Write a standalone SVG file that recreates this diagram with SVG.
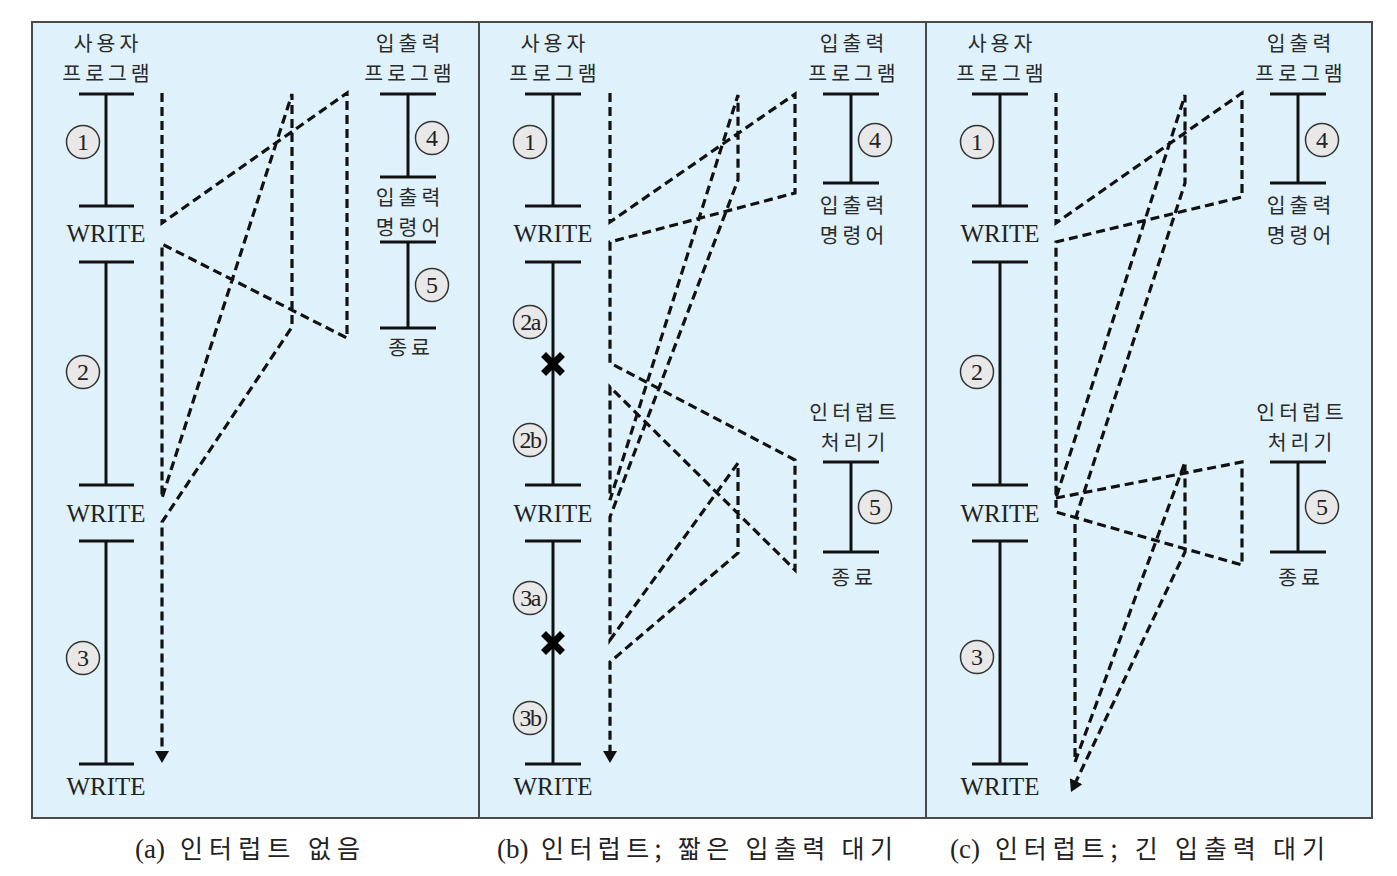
<svg xmlns="http://www.w3.org/2000/svg" width="1397" height="876" viewBox="0 0 1397 876">
<style>
.frame{fill:#dff2fc;stroke:#4a4a4a;stroke-width:2}
.div{stroke:#4a4a4a;stroke-width:2}
.tl{stroke:#111;stroke-width:3;fill:none}
.dash{stroke:#111;stroke-width:3.2;fill:none;stroke-dasharray:9 5;stroke-linejoin:miter}
.kr{font-family:"Noto Sans CJK KR","Noto Sans",sans-serif;font-size:20.5px;fill:#2a2a2a;text-anchor:middle;letter-spacing:4px}
.w{font-family:"Liberation Serif",serif;font-size:25px;fill:#222;text-anchor:middle}
.num circle{fill:#e8e8e8;stroke:#333;stroke-width:1.5}
.num text{font-family:"Liberation Serif",serif;font-size:24px;fill:#222;text-anchor:middle}
.capl{font-family:"Liberation Serif",serif;font-size:27px;fill:#222}
.cap{font-family:"Noto Sans CJK KR","Noto Sans",sans-serif;font-size:25px;fill:#222}
.x{stroke:#000;stroke-width:7;stroke-linecap:square}
</style>
<defs>
<marker id="arr" viewBox="0 0 12 14" refX="8" refY="7" markerWidth="12" markerHeight="14" markerUnits="userSpaceOnUse" orient="auto"><path d="M0,0 L12,7 L0,14 z" fill="#111"/></marker>
</defs>
<rect class="frame" x="32" y="22" width="1340" height="796"/>
<line class="div" x1="479" y1="22" x2="479" y2="818"/>
<line class="div" x1="926" y1="22" x2="926" y2="818"/>

<!-- Panel (a) -->
<g id="a-user">
<text class="kr" x="108" y="51">사용자</text>
<text class="kr" x="108" y="81">프로그램</text>
<path class="tl" d="M106,94V206M106,262V485M106,541V764M79,94H134M79,206H134M79,262H134M79,485H134M79,541H134M79,764H134"/>
<text class="w" x="106" y="242">WRITE</text>
<text class="w" x="106" y="522">WRITE</text>
<text class="w" x="106" y="795">WRITE</text>
<g class="num"><circle cx="83" cy="142" r="16.5"/><text x="83" y="150">1</text></g>
<g class="num"><circle cx="83" cy="372" r="16.5"/><text x="83" y="380">2</text></g>
<g class="num"><circle cx="83" cy="658" r="16.5"/><text x="83" y="666">3</text></g>
</g>
<g id="a-io">
<text class="kr" x="410" y="51">입출력</text>
<text class="kr" x="410" y="81">프로그램</text>
<path class="tl" d="M408,94V177M380,94H436M380,177H436M408,242V328M380,242H436M380,328H436"/>
<text class="kr" x="410" y="205">입출력</text>
<text class="kr" x="410" y="235">명령어</text>
<text class="kr" x="411" y="355">종료</text>
<g class="num"><circle cx="432" cy="138" r="16.5"/><text x="432" y="146">4</text></g>
<g class="num"><circle cx="432" cy="285" r="16.5"/><text x="432" y="293">5</text></g>
</g>

<!-- Panel (b) -->
<g id="b-user">
<text class="kr" x="555" y="51">사용자</text>
<text class="kr" x="555" y="81">프로그램</text>
<path class="tl" d="M553,94V206M553,262V485M553,541V764M525,94H581M525,206H581M525,262H581M525,485H581M525,541H581M525,764H581"/>
<text class="w" x="553" y="242">WRITE</text>
<text class="w" x="553" y="522">WRITE</text>
<text class="w" x="553" y="795">WRITE</text>
<path class="x" d="M546,357L560,371M560,357L546,371"/>
<path class="x" d="M546,636L560,650M560,636L546,650"/>
<g class="num"><circle cx="530" cy="142" r="16.5"/><text x="530" y="150">1</text></g>
<g class="num"><circle cx="530" cy="322" r="16.5"/><text x="530" y="330" letter-spacing="-1.5">2a</text></g>
<g class="num"><circle cx="530" cy="440" r="16.5"/><text x="530" y="448" letter-spacing="-1.5">2b</text></g>
<g class="num"><circle cx="530" cy="598" r="16.5"/><text x="530" y="606" letter-spacing="-1.5">3a</text></g>
<g class="num"><circle cx="530" cy="718" r="16.5"/><text x="530" y="726" letter-spacing="-1.5">3b</text></g>
</g>
<g id="b-io">
<text class="kr" x="854" y="51">입출력</text>
<text class="kr" x="854" y="81">프로그램</text>
<path class="tl" d="M851,94V183M823,94H879M823,183H879"/>
<text class="kr" x="854" y="213">입출력</text>
<text class="kr" x="854" y="243">명령어</text>
<g class="num"><circle cx="875" cy="140" r="16.5"/><text x="875" y="148">4</text></g>
</g>
<g id="b-handler">
<text class="kr" x="855" y="420">인터럽트</text>
<text class="kr" x="855" y="450">처리기</text>
<path class="tl" d="M851,462V552M823,462H879M823,552H879"/>
<text class="kr" x="854" y="585">종료</text>
<g class="num"><circle cx="875" cy="507" r="16.5"/><text x="875" y="515">5</text></g>
</g>

<!-- Panel (c) -->
<g id="c-user">
<text class="kr" x="1002" y="51">사용자</text>
<text class="kr" x="1002" y="81">프로그램</text>
<path class="tl" d="M1000,94V206M1000,262V485M1000,541V764M972,94H1028M972,206H1028M972,262H1028M972,485H1028M972,541H1028M972,764H1028"/>
<text class="w" x="1000" y="242">WRITE</text>
<text class="w" x="1000" y="522">WRITE</text>
<text class="w" x="1000" y="795">WRITE</text>
<g class="num"><circle cx="977" cy="142" r="16.5"/><text x="977" y="150">1</text></g>
<g class="num"><circle cx="977" cy="372" r="16.5"/><text x="977" y="380">2</text></g>
<g class="num"><circle cx="977" cy="657" r="16.5"/><text x="977" y="665">3</text></g>
</g>
<g id="c-io">
<text class="kr" x="1301" y="51">입출력</text>
<text class="kr" x="1301" y="81">프로그램</text>
<path class="tl" d="M1298,94V183M1270,94H1326M1270,183H1326"/>
<text class="kr" x="1301" y="213">입출력</text>
<text class="kr" x="1301" y="243">명령어</text>
<g class="num"><circle cx="1322" cy="140" r="16.5"/><text x="1322" y="148">4</text></g>
</g>
<g id="c-handler">
<text class="kr" x="1302" y="420">인터럽트</text>
<text class="kr" x="1302" y="450">처리기</text>
<path class="tl" d="M1298,462V552M1270,462H1326M1270,552H1326"/>
<text class="kr" x="1301" y="585">종료</text>
<g class="num"><circle cx="1322" cy="507" r="16.5"/><text x="1322" y="515">5</text></g>
</g>

<g id="connectors">
<path class="dash" marker-end="url(#arr)" d="M162,93V223L347,93V338L162,244V498L292,94V327L162,522V759"/>
<path class="dash" marker-end="url(#arr)" d="M610,93V222L795,94V193L610,242V363L795,460V570L610,387V500L738,95V180L610,517V640L738,463V553L610,662V759"/>
<path class="dash" marker-end="url(#arr)" d="M1056,93V223L1242,93V197L1056,242V498L1185,95V183L1075,520V762L1185,462V552L1072.7,788.4"/>
<path class="dash" d="M1056,498L1242,462V565L1056,512V500"/>
</g>

<g id="captions">
<text class="capl" x="135" y="858">(a)</text>
<text class="cap" x="180" y="858" textLength="180" lengthAdjust="spacing">인터럽트 없음</text>
<text class="capl" x="497" y="858">(b)</text>
<text class="cap" x="541" y="858" textLength="352" lengthAdjust="spacing">인터럽트; 짧은 입출력 대기</text>
<text class="capl" x="950" y="858">(c)</text>
<text class="cap" x="995" y="858" textLength="330" lengthAdjust="spacing">인터럽트; 긴 입출력 대기</text>
</g>
</svg>
